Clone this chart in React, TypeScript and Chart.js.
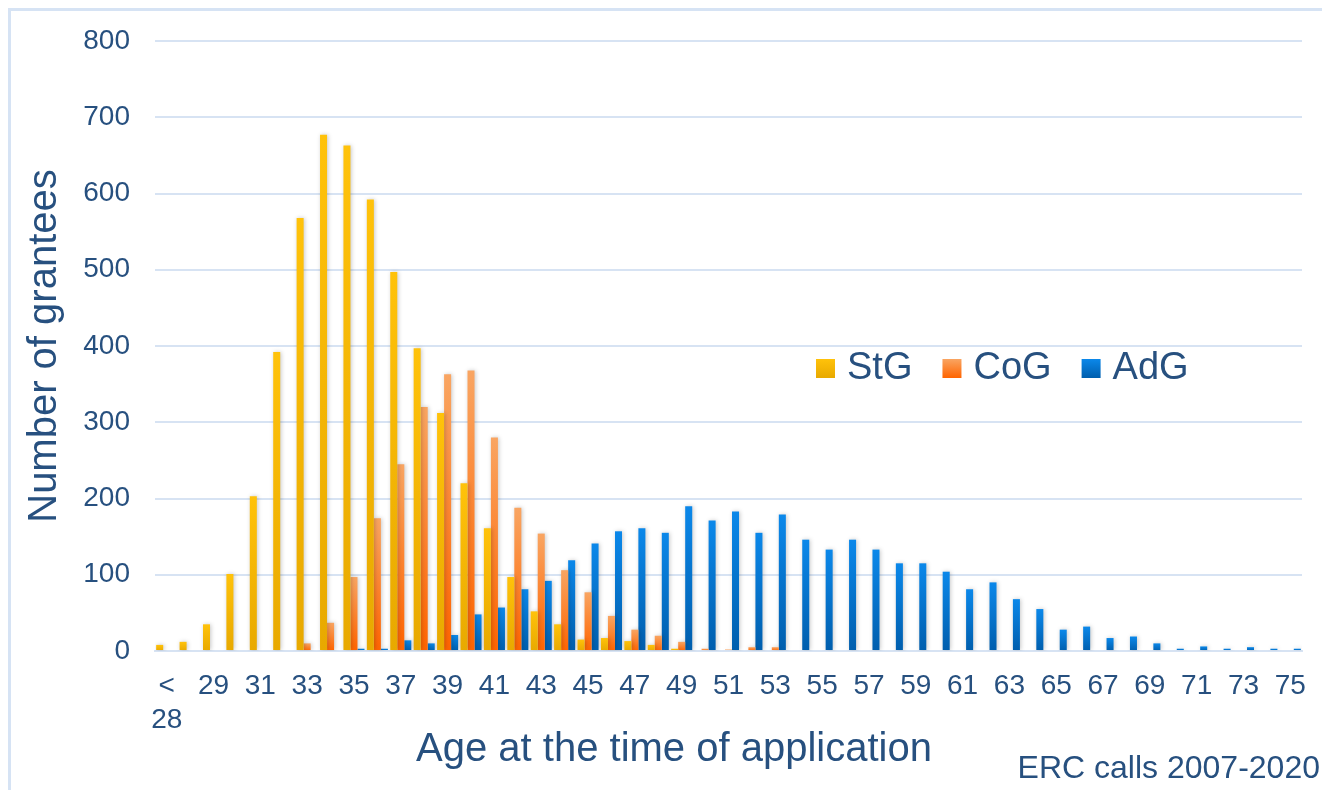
import React, { useEffect, useRef } from "react";
import { Chart, registerables } from "chart.js";

Chart.register(...registerables);

const categories = [
  "< 28", "28", "29", "30", "31", "32", "33", "34", "35", "36", "37", "38", "39", "40",
  "41", "42", "43", "44", "45", "46", "47", "48", "49", "50", "51", "52", "53", "54",
  "55", "56", "57", "58", "59", "60", "61", "62", "63", "64", "65", "66", "67", "68",
  "69", "70", "71", "72", "73", "74", "75",
];

const stgValues = [
  8, 12, 35, 101, 203, 392, 568, 677, 663, 592, 497, 397, 312, 220,
  161, 97, 52, 35, 15, 17, 13, 8, 3, 0, 0, 0, 0, 0,
  0, 0, 0, 0, 0, 0, 0, 0, 0, 0, 0, 0, 0, 0,
  0, 0, 0, 0, 0, 0, 0,
];

const cogValues = [
  0, 0, 0, 0, 0, 0, 10, 37, 97, 174, 245, 320, 363, 368,
  280, 188, 154, 106, 77, 46, 28, 20, 12, 3, 2, 5, 5, 0,
  0, 0, 0, 0, 0, 0, 0, 0, 0, 0, 0, 0, 0, 0,
  0, 0, 0, 0, 0, 0, 0,
];

const adgValues = [
  0, 0, 0, 0, 0, 0, 0, 0, 3, 3, 14, 10, 21, 48,
  57, 81, 92, 119, 141, 157, 161, 155, 190, 171, 183, 155, 179, 146,
  133, 146, 133, 115, 115, 104, 81, 90, 68, 55, 28, 32, 17, 19,
  10, 3, 6, 3, 5, 3, 3,
];

const seriesNames = ["StG", "CoG", "AdG"];
const yMin = 0;
const yMax = 800;
const yStep = 100;

const xTitle = "Age at the time of application";
const yTitle = "Number of grantees";
const note = "ERC calls 2007-2020";

const TEXT = "#27507F";
const GRID = "#D7E3F3";
const FONT = "'Liberation Sans', Arial, sans-serif";

const palette: [string, string][] = [
  ["#FFC20A", "#E8A900"],
  ["#F9A562", "#FF6400"],
  ["#0B88EA", "#005EAD"],
];

function barGradient(top: string, bottom: string) {
  return (ctx: any) => {
    const chart = ctx.chart;
    const { chartArea, scales } = chart;
    if (!chartArea || ctx.type !== "data" || !scales.y) return bottom;
    const v = ctx.raw as number;
    const y0 = scales.y.getPixelForValue(0);
    const y1 = scales.y.getPixelForValue(v);
    if (!isFinite(y0) || !isFinite(y1) || y0 - y1 < 1) return bottom;
    const g = chart.ctx.createLinearGradient(0, y1, 0, y0);
    g.addColorStop(0, top);
    g.addColorStop(1, bottom);
    return g;
  };
}

const shadowPlugin = {
  id: "barShadow",
  beforeDatasetsDraw(chart: any) {
    const c = chart.ctx;
    c.save();
    c.shadowColor = "rgba(0,0,0,0.22)";
    c.shadowBlur = 4;
    c.shadowOffsetX = 1;
    c.shadowOffsetY = 0;
  },
  afterDatasetsDraw(chart: any) {
    chart.ctx.restore();
  },
};

const textPlugin = {
  id: "texts",
  afterDraw(chart: any) {
    const c = chart.ctx as CanvasRenderingContext2D;
    const area = chart.chartArea;
    c.save();
    c.fillStyle = TEXT;
    // y title
    c.font = `40px ${FONT}`;
    c.textAlign = "center";
    c.textBaseline = "middle";
    c.save();
    c.translate(37, (area.top + area.bottom) / 2);
    c.rotate(-Math.PI / 2);
    c.fillText(yTitle, 0, 0);
    c.restore();
    // x title
    c.fillText(xTitle, 666, 742);
    // note
    c.font = `32px ${FONT}`;
    c.textAlign = "right";
    c.fillText(note, 1312, 761);
    // legend
    c.font = `38px ${FONT}`;
    c.textAlign = "left";
    let x = 808;
    const yMid = 360;
    seriesNames.forEach((name, i) => {
      const g = c.createLinearGradient(0, yMid - 9, 0, yMid + 10);
      g.addColorStop(0, palette[i][0]);
      g.addColorStop(1, palette[i][1]);
      c.fillStyle = g;
      c.fillRect(x, yMid - 9, 19, 19);
      c.fillStyle = TEXT;
      c.fillText(name, x + 31, yMid + 1);
      x += 31 + c.measureText(name).width + 30;
    });
    c.restore();
  },
};

export default function App() {
  const ref = useRef<HTMLCanvasElement>(null);
  useEffect(() => {
    document.documentElement.style.overflow = "hidden";
    document.body.style.overflow = "hidden";
    const values = [stgValues, cogValues, adgValues];
    const chart = new Chart(ref.current!, {
      type: "bar",
      data: {
        labels: categories,
        datasets: seriesNames.map((name, i) => ({
          label: name,
          data: values[i],
          backgroundColor: barGradient(palette[i][0], palette[i][1]),
          borderWidth: 0,
          categoryPercentage: 0.9,
          barPercentage: 1.0,
        })),
      },
      options: {
        responsive: false,
        animation: false,
        devicePixelRatio: 1,
        layout: { padding: { top: 33, right: 28, left: 0, bottom: 0 } },
        plugins: {
          legend: { display: false },
          tooltip: { enabled: false },
          title: { display: false },
        },
        scales: {
          x: {
            afterFit: (s: any) => {
              s.height = 139;
              s.paddingLeft = 0;
              s.paddingRight = 0;
            },
            grid: { display: false, drawTicks: false },
            border: { display: true, color: GRID, width: 2 },
            ticks: {
              autoSkip: false,
              maxRotation: 0,
              minRotation: 0,
              padding: 18,
              color: TEXT,
              font: { family: FONT, size: 28, lineHeight: 1.22 },
              callback: (_v: any, i: number) =>
                i % 2 === 0 ? categories[i].split(" ") : "",
            },
          },
          y: {
            min: yMin,
            max: yMax,
            afterFit: (s: any) => {
              s.width = 147;
              s.paddingTop = 0;
              s.paddingBottom = 0;
            },
            grid: { color: GRID, lineWidth: 2, drawTicks: false },
            border: { display: false },
            ticks: {
              stepSize: yStep,
              padding: 25,
              color: TEXT,
              font: { family: FONT, size: 28 },
            },
          },
        },
      },
      plugins: [shadowPlugin, textPlugin],
    });
    return () => chart.destroy();
  }, []);

  return (
    <div style={{ position: "relative", width: 1322, height: 782, overflow: "hidden" }}>
      <canvas
        ref={ref}
        width={1322}
        height={782}
        style={{ position: "absolute", left: 0, top: 0, width: 1322, height: 782 }}
      />
      <div
        style={{
          position: "absolute",
          left: 0,
          top: 0,
          right: 0,
          bottom: 0,
          borderLeft: "3px solid #D6E3F4",
          borderTop: "3px solid #D6E3F4",
          pointerEvents: "none",
        }}
      />
    </div>
  );
}
